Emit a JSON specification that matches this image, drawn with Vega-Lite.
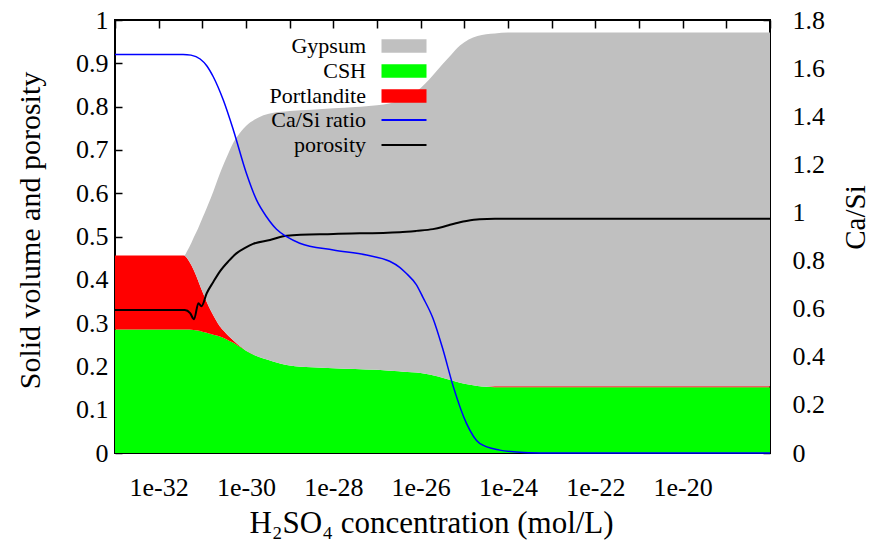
{
  "$schema": "https://vega.github.io/schema/vega-lite/v6.json",
  "width": 655,
  "height": 433,
  "autosize": {"type": "none"},
  "padding": {"left": 115, "top": 20, "right": 107, "bottom": 97},
  "background": "white",
  "config": {
    "view": {"stroke": "black", "strokeWidth": 2},
    "font": "Liberation Serif, Times New Roman, serif",
    "text": {"font": "Liberation Serif, Times New Roman, serif"},
    "axis": {
      "labelFont": "Liberation Serif, Times New Roman, serif",
      "titleFont": "Liberation Serif, Times New Roman, serif",
      "labelColor": "black",
      "titleColor": "black",
      "titleFontWeight": "normal",
      "grid": false,
      "domain": false,
      "tickColor": "black",
      "tickWidth": 1.5
    },
    "legend": {
      "labelFont": "Liberation Serif, Times New Roman, serif",
      "labelColor": "black",
      "labelFontSize": 22,
      "labelLimit": 300
    }
  },
  "datasets": {
    "solids": [
      {"c": 1e-33, "CSH": 0.285, "Portlandite": 0.171, "Gypsum": 0},
      {"c": 3.63e-32, "CSH": 0.285, "Portlandite": 0.171, "Gypsum": 0},
      {"c": 3.98e-32, "CSH": 0.285, "Portlandite": 0.170, "Gypsum": 0.002},
      {"c": 4.47e-32, "CSH": 0.285, "Portlandite": 0.165, "Gypsum": 0.016},
      {"c": 5.01e-32, "CSH": 0.285, "Portlandite": 0.157, "Gypsum": 0.033},
      {"c": 6.31e-32, "CSH": 0.284, "Portlandite": 0.139, "Gypsum": 0.074},
      {"c": 7.94e-32, "CSH": 0.283, "Portlandite": 0.116, "Gypsum": 0.119},
      {"c": 1e-31, "CSH": 0.280, "Portlandite": 0.093, "Gypsum": 0.169},
      {"c": 1.26e-31, "CSH": 0.278, "Portlandite": 0.071, "Gypsum": 0.217},
      {"c": 1.58e-31, "CSH": 0.275, "Portlandite": 0.053, "Gypsum": 0.262},
      {"c": 2.0e-31, "CSH": 0.272, "Portlandite": 0.037, "Gypsum": 0.309},
      {"c": 2.51e-31, "CSH": 0.269, "Portlandite": 0.024, "Gypsum": 0.352},
      {"c": 3.16e-31, "CSH": 0.265, "Portlandite": 0.016, "Gypsum": 0.389},
      {"c": 3.98e-31, "CSH": 0.260, "Portlandite": 0.010, "Gypsum": 0.423},
      {"c": 5.01e-31, "CSH": 0.255, "Portlandite": 0.006, "Gypsum": 0.454},
      {"c": 6.31e-31, "CSH": 0.249, "Portlandite": 0.003, "Gypsum": 0.479},
      {"c": 7.94e-31, "CSH": 0.243, "Portlandite": 0.001, "Gypsum": 0.500},
      {"c": 1e-30, "CSH": 0.236, "Portlandite": 0, "Gypsum": 0.519},
      {"c": 1.58e-30, "CSH": 0.226, "Portlandite": 0, "Gypsum": 0.544},
      {"c": 2.51e-30, "CSH": 0.218, "Portlandite": 0, "Gypsum": 0.562},
      {"c": 3.98e-30, "CSH": 0.212, "Portlandite": 0, "Gypsum": 0.573},
      {"c": 6.31e-30, "CSH": 0.206, "Portlandite": 0, "Gypsum": 0.582},
      {"c": 1e-29, "CSH": 0.202, "Portlandite": 0, "Gypsum": 0.588},
      {"c": 3.16e-29, "CSH": 0.198, "Portlandite": 0, "Gypsum": 0.595},
      {"c": 1e-28, "CSH": 0.196, "Portlandite": 0, "Gypsum": 0.600},
      {"c": 3.16e-28, "CSH": 0.194, "Portlandite": 0, "Gypsum": 0.605},
      {"c": 1e-27, "CSH": 0.192, "Portlandite": 0, "Gypsum": 0.611},
      {"c": 2e-27, "CSH": 0.190, "Portlandite": 0, "Gypsum": 0.618},
      {"c": 3.16e-27, "CSH": 0.189, "Portlandite": 0, "Gypsum": 0.625},
      {"c": 5.01e-27, "CSH": 0.187, "Portlandite": 0, "Gypsum": 0.635},
      {"c": 7.94e-27, "CSH": 0.186, "Portlandite": 0, "Gypsum": 0.649},
      {"c": 1.26e-26, "CSH": 0.183, "Portlandite": 0, "Gypsum": 0.670},
      {"c": 2e-26, "CSH": 0.179, "Portlandite": 0, "Gypsum": 0.696},
      {"c": 3.16e-26, "CSH": 0.174, "Portlandite": 0, "Gypsum": 0.724},
      {"c": 5.01e-26, "CSH": 0.168, "Portlandite": 0, "Gypsum": 0.752},
      {"c": 7.94e-26, "CSH": 0.162, "Portlandite": 0, "Gypsum": 0.779},
      {"c": 1.26e-25, "CSH": 0.158, "Portlandite": 0, "Gypsum": 0.797},
      {"c": 2e-25, "CSH": 0.155, "Portlandite": 0, "Gypsum": 0.808},
      {"c": 3.16e-25, "CSH": 0.153, "Portlandite": 0, "Gypsum": 0.814},
      {"c": 5.01e-25, "CSH": 0.152, "Portlandite": 0.002, "Gypsum": 0.815},
      {"c": 1e-24, "CSH": 0.152, "Portlandite": 0.002, "Gypsum": 0.817},
      {"c": 3.16e-24, "CSH": 0.152, "Portlandite": 0.002, "Gypsum": 0.817},
      {"c": 1e-18, "CSH": 0.152, "Portlandite": 0.002, "Gypsum": 0.817}
    ],
    "casi": [
      {"c": 1e-33, "ratio": 1.657},
      {"c": 3.63e-32, "ratio": 1.657},
      {"c": 5.5e-32, "ratio": 1.654},
      {"c": 8.91e-32, "ratio": 1.638},
      {"c": 1.26e-31, "ratio": 1.610},
      {"c": 1.78e-31, "ratio": 1.564},
      {"c": 3.02e-31, "ratio": 1.467},
      {"c": 5.13e-31, "ratio": 1.343},
      {"c": 1.02e-30, "ratio": 1.163},
      {"c": 1.74e-30, "ratio": 1.052},
      {"c": 2.95e-30, "ratio": 0.982},
      {"c": 5.0e-30, "ratio": 0.930},
      {"c": 8.51e-30, "ratio": 0.899},
      {"c": 1.70e-29, "ratio": 0.872},
      {"c": 1e-28, "ratio": 0.844},
      {"c": 5.75e-28, "ratio": 0.823},
      {"c": 1.95e-27, "ratio": 0.797},
      {"c": 3.31e-27, "ratio": 0.772},
      {"c": 4.79e-27, "ratio": 0.745},
      {"c": 7.94e-27, "ratio": 0.700},
      {"c": 1.12e-26, "ratio": 0.648},
      {"c": 1.91e-26, "ratio": 0.560},
      {"c": 3.24e-26, "ratio": 0.430},
      {"c": 5.50e-26, "ratio": 0.280},
      {"c": 1.12e-25, "ratio": 0.123},
      {"c": 2.24e-25, "ratio": 0.040},
      {"c": 6.46e-25, "ratio": 0.012},
      {"c": 1.55e-24, "ratio": 0.004},
      {"c": 5.37e-24, "ratio": 0.0},
      {"c": 1e-18, "ratio": 0.0}
    ],
    "porosity": [
      {"c": 1e-33, "porosity": 0.330},
      {"c": 3.98e-32, "porosity": 0.330},
      {"c": 5.25e-32, "porosity": 0.323},
      {"c": 6.46e-32, "porosity": 0.309},
      {"c": 8.13e-32, "porosity": 0.346},
      {"c": 9.55e-32, "porosity": 0.339},
      {"c": 1.26e-31, "porosity": 0.369},
      {"c": 1.78e-31, "porosity": 0.395},
      {"c": 2.51e-31, "porosity": 0.419},
      {"c": 3.98e-31, "porosity": 0.443},
      {"c": 6.03e-31, "porosity": 0.461},
      {"c": 1e-30, "porosity": 0.475},
      {"c": 1.45e-30, "porosity": 0.483},
      {"c": 3.55e-30, "porosity": 0.492},
      {"c": 8.51e-30, "porosity": 0.502},
      {"c": 1e-28, "porosity": 0.506},
      {"c": 3.31e-27, "porosity": 0.510},
      {"c": 7.94e-27, "porosity": 0.513},
      {"c": 1.91e-26, "porosity": 0.517},
      {"c": 3.16e-26, "porosity": 0.522},
      {"c": 4.68e-26, "porosity": 0.527},
      {"c": 7.94e-26, "porosity": 0.533},
      {"c": 1.12e-25, "porosity": 0.536},
      {"c": 2.24e-25, "porosity": 0.540},
      {"c": 5.01e-25, "porosity": 0.541},
      {"c": 1e-18, "porosity": 0.541}
    ]
  },
  "layer": [
    {
      "data": {"name": "solids"},
      "transform": [
        {"fold": ["CSH", "Portlandite", "Gypsum"], "as": ["mineral", "vol"]},
        {"window": [{"op": "row_number", "as": "rank"}], "groupby": ["c"]}
      ],
      "mark": {"type": "area", "interpolate": "monotone"},
      "encoding": {
        "x": {
          "field": "c",
          "type": "quantitative",
          "scale": {"type": "log", "domain": [1e-33, 1e-18], "nice": false},
          "axis": {
            "orient": "bottom",
            "values": [1e-32, 1e-30, 1e-28, 1e-26, 1e-24, 1e-22, 1e-20],
            "format": ".0e",
            "ticks": false,
            "labelFontSize": 26,
            "labelPadding": 21,
            "title": "H₂SO₄ concentration (mol/L)",
            "titleFontSize": 31,
            "titlePadding": 8,
            "titleX": 316
          }
        },
        "y": {
          "field": "vol",
          "type": "quantitative",
          "stack": "zero",
          "scale": {"domain": [0, 1], "nice": false, "zero": true},
          "axis": {
            "orient": "left",
            "values": [0, 0.1, 0.2, 0.3, 0.4, 0.5, 0.6, 0.7, 0.8, 0.9, 1],
            "format": "~g",
            "tickSize": -7,
            "labelFontSize": 26,
            "labelPadding": 14,
            "title": "Solid volume and porosity",
            "titleFontSize": 30,
            "titleBaseline": "middle",
            "titleX": -85,
            "titleY": 210
          }
        },
        "order": {"field": "rank", "type": "quantitative"},
        "fill": {
          "field": "mineral",
          "type": "nominal",
          "scale": {"domain": ["Gypsum", "CSH", "Portlandite"], "range": ["#c0c0c0", "#00ff00", "#ff0000"]},
          "legend": {
            "title": null,
            "orient": "none",
            "legendX": 278,
            "legendY": 15,
            "padding": 0,
            "rowPadding": 3,
            "symbolType": "M-3,-0.9H3V0.9H-3Z",
            "symbolSize": 225,
            "symbolStrokeWidth": 0,
            "symbolOpacity": 1,
            "labelAlign": "right",
            "labelOffset": -49
          }
        }
      }
    },
    {
      "data": {"name": "porosity"},
      "mark": {"type": "line", "interpolate": "monotone", "strokeWidth": 2},
      "encoding": {
        "x": {
          "field": "c",
          "type": "quantitative",
          "scale": {"type": "log", "domain": [1e-33, 1e-18], "nice": false},
          "axis": {
            "orient": "top",
            "values": [1e-33, 1e-32, 1e-31, 1e-30, 1e-29, 1e-28, 1e-27, 1e-26, 1e-25, 1e-24, 1e-23, 1e-22, 1e-21, 1e-20, 1e-19, 1e-18],
            "labels": false,
            "tickSize": -8,
            "title": null,
            "encode": {"ticks": {"update": {"y2": {"signal": "abs(round(log(datum.value)/LN10)) % 2 == 0 ? 8 : 4"}}}}
          }
        },
        "y": {
          "field": "porosity",
          "type": "quantitative",
          "scale": {"domain": [0, 1], "nice": false},
          "axis": null
        },
        "stroke": {
          "datum": "porosity",
          "type": "nominal",
          "scale": {"domain": ["Ca/Si ratio", "porosity"], "range": ["#0000ff", "#000000"]},
          "legend": {
            "title": null,
            "orient": "none",
            "legendX": 278,
            "legendY": 89,
            "padding": 0,
            "rowPadding": 3,
            "symbolType": "M-3,0H3",
            "symbolSize": 225,
            "symbolStrokeWidth": 1.8,
            "labelAlign": "right",
            "labelOffset": -49
          }
        }
      }
    },
    {
      "data": {"name": "casi"},
      "mark": {"type": "line", "interpolate": "monotone", "strokeWidth": 1.5},
      "encoding": {
        "x": {
          "field": "c",
          "type": "quantitative",
          "scale": {"type": "log", "domain": [1e-33, 1e-18], "nice": false},
          "axis": null
        },
        "y": {
          "field": "ratio",
          "type": "quantitative",
          "scale": {"domain": [0, 1.8], "nice": false},
          "axis": {
            "orient": "right",
            "values": [0, 0.2, 0.4, 0.6, 0.8, 1, 1.2, 1.4, 1.6, 1.8],
            "format": "~g",
            "tickSize": -7,
            "labelFontSize": 26,
            "labelPadding": 29,
            "title": "Ca/Si",
            "titleAngle": 270,
            "titleBaseline": "middle",
            "titleFontSize": 29,
            "titleX": 85,
            "titleY": 197
          }
        },
        "stroke": {"datum": "Ca/Si ratio", "type": "nominal"}
      }
    }
  ],
  "resolve": {
    "scale": {"y": "independent"},
    "axis": {"x": "independent", "y": "independent"}
  }
}
